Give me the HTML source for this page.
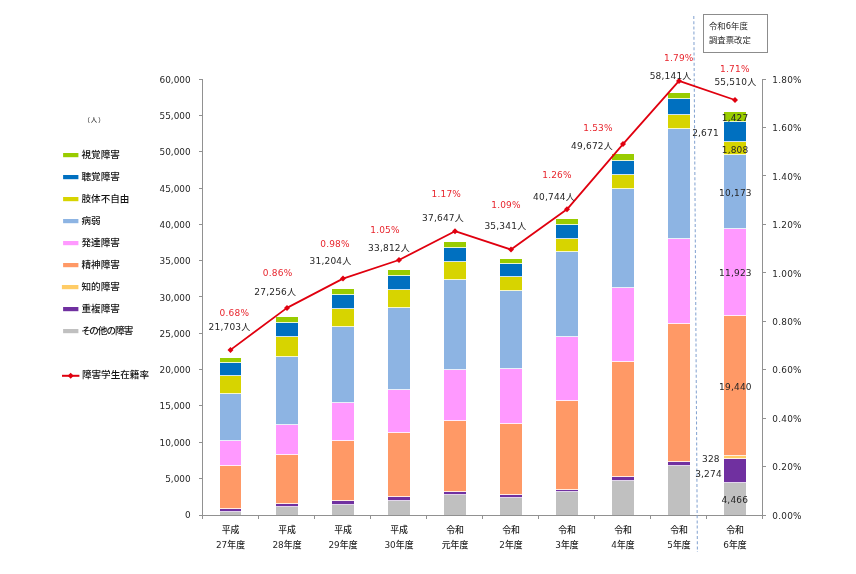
<!DOCTYPE html>
<html lang="ja"><head><meta charset="utf-8"><title>障害学生数・障害学生在籍率の推移</title>
<style>html,body{margin:0;padding:0;background:#fff}body{width:856px;height:574px;overflow:hidden}svg{display:block}
text{font-family:"DejaVu Sans","Liberation Sans","Noto Sans CJK JP",sans-serif;fill:#262626}
.n{font-size:9px;letter-spacing:0.2px}.ax{font-size:8.9px}.r{fill:#e8262e}.j{font-family:"Liberation Sans","Noto Sans CJK JP",sans-serif}
.lg{font-size:9.6px;fill:#111;font-weight:500}.xl{font-size:8.9px;font-weight:500}.m{text-anchor:middle}.e{text-anchor:end}
</style></head><body>
<svg width="856" height="574" viewBox="0 0 856 574">
<rect width="856" height="574" fill="#fff"/>
<rect x="220" y="512" width="21" height="3.4" fill="#c0c0c0"/>
<rect x="220" y="509" width="21" height="3.0" fill="#7030a0"/>
<rect x="220" y="466" width="21" height="43.0" fill="#ff9966"/>
<rect x="220" y="441" width="21" height="25.0" fill="#ff99ff"/>
<rect x="220" y="394" width="21" height="47.0" fill="#8db4e3"/>
<rect x="220" y="376" width="21" height="18.0" fill="#d7d400"/>
<rect x="220" y="363" width="21" height="13.0" fill="#0070c0"/>
<rect x="220" y="358" width="21" height="5.0" fill="#99cc00"/>
<rect x="220" y="511" width="21" height="1" fill="#fff" fill-opacity="0.8"/>
<rect x="220" y="508" width="21" height="1" fill="#fff" fill-opacity="0.8"/>
<rect x="220" y="465" width="21" height="1" fill="#fff" fill-opacity="0.8"/>
<rect x="220" y="440" width="21" height="1" fill="#fff" fill-opacity="0.8"/>
<rect x="220" y="393" width="21" height="1" fill="#fff" fill-opacity="0.8"/>
<rect x="220" y="375" width="21" height="1" fill="#fff" fill-opacity="0.8"/>
<rect x="220" y="362" width="21" height="1" fill="#fff" fill-opacity="0.8"/>
<rect x="276" y="507" width="22" height="8.4" fill="#c0c0c0"/>
<rect x="276" y="504" width="22" height="3.0" fill="#7030a0"/>
<rect x="276" y="455" width="22" height="49.0" fill="#ff9966"/>
<rect x="276" y="425" width="22" height="30.0" fill="#ff99ff"/>
<rect x="276" y="357" width="22" height="68.0" fill="#8db4e3"/>
<rect x="276" y="337" width="22" height="20.0" fill="#d7d400"/>
<rect x="276" y="323" width="22" height="14.0" fill="#0070c0"/>
<rect x="276" y="317" width="22" height="6.0" fill="#99cc00"/>
<rect x="276" y="506" width="22" height="1" fill="#fff" fill-opacity="0.8"/>
<rect x="276" y="503" width="22" height="1" fill="#fff" fill-opacity="0.8"/>
<rect x="276" y="454" width="22" height="1" fill="#fff" fill-opacity="0.8"/>
<rect x="276" y="424" width="22" height="1" fill="#fff" fill-opacity="0.8"/>
<rect x="276" y="356" width="22" height="1" fill="#fff" fill-opacity="0.8"/>
<rect x="276" y="336" width="22" height="1" fill="#fff" fill-opacity="0.8"/>
<rect x="276" y="322" width="22" height="1" fill="#fff" fill-opacity="0.8"/>
<rect x="332" y="505" width="22" height="10.4" fill="#c0c0c0"/>
<rect x="332" y="501" width="22" height="4.0" fill="#7030a0"/>
<rect x="332" y="441" width="22" height="60.0" fill="#ff9966"/>
<rect x="332" y="403" width="22" height="38.0" fill="#ff99ff"/>
<rect x="332" y="327" width="22" height="76.0" fill="#8db4e3"/>
<rect x="332" y="309" width="22" height="18.0" fill="#d7d400"/>
<rect x="332" y="295" width="22" height="14.0" fill="#0070c0"/>
<rect x="332" y="289" width="22" height="6.0" fill="#99cc00"/>
<rect x="332" y="504" width="22" height="1" fill="#fff" fill-opacity="0.8"/>
<rect x="332" y="500" width="22" height="1" fill="#fff" fill-opacity="0.8"/>
<rect x="332" y="440" width="22" height="1" fill="#fff" fill-opacity="0.8"/>
<rect x="332" y="402" width="22" height="1" fill="#fff" fill-opacity="0.8"/>
<rect x="332" y="326" width="22" height="1" fill="#fff" fill-opacity="0.8"/>
<rect x="332" y="308" width="22" height="1" fill="#fff" fill-opacity="0.8"/>
<rect x="332" y="294" width="22" height="1" fill="#fff" fill-opacity="0.8"/>
<rect x="388" y="501" width="22" height="14.4" fill="#c0c0c0"/>
<rect x="388" y="497" width="22" height="4.0" fill="#7030a0"/>
<rect x="388" y="433" width="22" height="64.0" fill="#ff9966"/>
<rect x="388" y="390" width="22" height="43.0" fill="#ff99ff"/>
<rect x="388" y="308" width="22" height="82.0" fill="#8db4e3"/>
<rect x="388" y="290" width="22" height="18.0" fill="#d7d400"/>
<rect x="388" y="276" width="22" height="14.0" fill="#0070c0"/>
<rect x="388" y="270" width="22" height="6.0" fill="#99cc00"/>
<rect x="388" y="500" width="22" height="1" fill="#fff" fill-opacity="0.8"/>
<rect x="388" y="496" width="22" height="1" fill="#fff" fill-opacity="0.8"/>
<rect x="388" y="432" width="22" height="1" fill="#fff" fill-opacity="0.8"/>
<rect x="388" y="389" width="22" height="1" fill="#fff" fill-opacity="0.8"/>
<rect x="388" y="307" width="22" height="1" fill="#fff" fill-opacity="0.8"/>
<rect x="388" y="289" width="22" height="1" fill="#fff" fill-opacity="0.8"/>
<rect x="388" y="275" width="22" height="1" fill="#fff" fill-opacity="0.8"/>
<rect x="444" y="495" width="22" height="20.4" fill="#c0c0c0"/>
<rect x="444" y="492" width="22" height="3.0" fill="#7030a0"/>
<rect x="444" y="421" width="22" height="71.0" fill="#ff9966"/>
<rect x="444" y="370" width="22" height="51.0" fill="#ff99ff"/>
<rect x="444" y="280" width="22" height="90.0" fill="#8db4e3"/>
<rect x="444" y="262" width="22" height="18.0" fill="#d7d400"/>
<rect x="444" y="248" width="22" height="14.0" fill="#0070c0"/>
<rect x="444" y="242" width="22" height="6.0" fill="#99cc00"/>
<rect x="444" y="494" width="22" height="1" fill="#fff" fill-opacity="0.8"/>
<rect x="444" y="491" width="22" height="1" fill="#fff" fill-opacity="0.8"/>
<rect x="444" y="420" width="22" height="1" fill="#fff" fill-opacity="0.8"/>
<rect x="444" y="369" width="22" height="1" fill="#fff" fill-opacity="0.8"/>
<rect x="444" y="279" width="22" height="1" fill="#fff" fill-opacity="0.8"/>
<rect x="444" y="261" width="22" height="1" fill="#fff" fill-opacity="0.8"/>
<rect x="444" y="247" width="22" height="1" fill="#fff" fill-opacity="0.8"/>
<rect x="500" y="498" width="22" height="17.4" fill="#c0c0c0"/>
<rect x="500" y="495" width="22" height="3.0" fill="#7030a0"/>
<rect x="500" y="424" width="22" height="71.0" fill="#ff9966"/>
<rect x="500" y="369" width="22" height="55.0" fill="#ff99ff"/>
<rect x="500" y="291" width="22" height="78.0" fill="#8db4e3"/>
<rect x="500" y="277" width="22" height="14.0" fill="#d7d400"/>
<rect x="500" y="264" width="22" height="13.0" fill="#0070c0"/>
<rect x="500" y="259" width="22" height="5.0" fill="#99cc00"/>
<rect x="500" y="497" width="22" height="1" fill="#fff" fill-opacity="0.8"/>
<rect x="500" y="494" width="22" height="1" fill="#fff" fill-opacity="0.8"/>
<rect x="500" y="423" width="22" height="1" fill="#fff" fill-opacity="0.8"/>
<rect x="500" y="368" width="22" height="1" fill="#fff" fill-opacity="0.8"/>
<rect x="500" y="290" width="22" height="1" fill="#fff" fill-opacity="0.8"/>
<rect x="500" y="276" width="22" height="1" fill="#fff" fill-opacity="0.8"/>
<rect x="500" y="263" width="22" height="1" fill="#fff" fill-opacity="0.8"/>
<rect x="556" y="492" width="22" height="23.4" fill="#c0c0c0"/>
<rect x="556" y="490" width="22" height="2.0" fill="#7030a0"/>
<rect x="556" y="401" width="22" height="89.0" fill="#ff9966"/>
<rect x="556" y="337" width="22" height="64.0" fill="#ff99ff"/>
<rect x="556" y="252" width="22" height="85.0" fill="#8db4e3"/>
<rect x="556" y="239" width="22" height="13.0" fill="#d7d400"/>
<rect x="556" y="225" width="22" height="14.0" fill="#0070c0"/>
<rect x="556" y="219" width="22" height="6.0" fill="#99cc00"/>
<rect x="556" y="491" width="22" height="1" fill="#fff" fill-opacity="0.8"/>
<rect x="556" y="489" width="22" height="1" fill="#fff" fill-opacity="0.8"/>
<rect x="556" y="400" width="22" height="1" fill="#fff" fill-opacity="0.8"/>
<rect x="556" y="336" width="22" height="1" fill="#fff" fill-opacity="0.8"/>
<rect x="556" y="251" width="22" height="1" fill="#fff" fill-opacity="0.8"/>
<rect x="556" y="238" width="22" height="1" fill="#fff" fill-opacity="0.8"/>
<rect x="556" y="224" width="22" height="1" fill="#fff" fill-opacity="0.8"/>
<rect x="612" y="481" width="22" height="34.4" fill="#c0c0c0"/>
<rect x="612" y="477" width="22" height="4.0" fill="#7030a0"/>
<rect x="612" y="362" width="22" height="115.0" fill="#ff9966"/>
<rect x="612" y="288" width="22" height="74.0" fill="#ff99ff"/>
<rect x="612" y="189" width="22" height="99.0" fill="#8db4e3"/>
<rect x="612" y="175" width="22" height="14.0" fill="#d7d400"/>
<rect x="612" y="161" width="22" height="14.0" fill="#0070c0"/>
<rect x="612" y="154" width="22" height="7.0" fill="#99cc00"/>
<rect x="612" y="480" width="22" height="1" fill="#fff" fill-opacity="0.8"/>
<rect x="612" y="476" width="22" height="1" fill="#fff" fill-opacity="0.8"/>
<rect x="612" y="361" width="22" height="1" fill="#fff" fill-opacity="0.8"/>
<rect x="612" y="287" width="22" height="1" fill="#fff" fill-opacity="0.8"/>
<rect x="612" y="188" width="22" height="1" fill="#fff" fill-opacity="0.8"/>
<rect x="612" y="174" width="22" height="1" fill="#fff" fill-opacity="0.8"/>
<rect x="612" y="160" width="22" height="1" fill="#fff" fill-opacity="0.8"/>
<rect x="668" y="466" width="22" height="49.4" fill="#c0c0c0"/>
<rect x="668" y="462" width="22" height="4.0" fill="#7030a0"/>
<rect x="668" y="324" width="22" height="138.0" fill="#ff9966"/>
<rect x="668" y="239" width="22" height="85.0" fill="#ff99ff"/>
<rect x="668" y="129" width="22" height="110.0" fill="#8db4e3"/>
<rect x="668" y="115" width="22" height="14.0" fill="#d7d400"/>
<rect x="668" y="99" width="22" height="16.0" fill="#0070c0"/>
<rect x="668" y="93" width="22" height="6.0" fill="#99cc00"/>
<rect x="668" y="465" width="22" height="1" fill="#fff" fill-opacity="0.8"/>
<rect x="668" y="461" width="22" height="1" fill="#fff" fill-opacity="0.8"/>
<rect x="668" y="323" width="22" height="1" fill="#fff" fill-opacity="0.8"/>
<rect x="668" y="238" width="22" height="1" fill="#fff" fill-opacity="0.8"/>
<rect x="668" y="128" width="22" height="1" fill="#fff" fill-opacity="0.8"/>
<rect x="668" y="114" width="22" height="1" fill="#fff" fill-opacity="0.8"/>
<rect x="668" y="98" width="22" height="1" fill="#fff" fill-opacity="0.8"/>
<rect x="724" y="483" width="22" height="32.4" fill="#c0c0c0"/>
<rect x="724" y="459" width="22" height="24.0" fill="#7030a0"/>
<rect x="724" y="456" width="22" height="3.0" fill="#ffcc66"/>
<rect x="724" y="316" width="22" height="140.0" fill="#ff9966"/>
<rect x="724" y="229" width="22" height="87.0" fill="#ff99ff"/>
<rect x="724" y="155" width="22" height="74.0" fill="#8db4e3"/>
<rect x="724" y="142" width="22" height="13.0" fill="#d7d400"/>
<rect x="724" y="122" width="22" height="20.0" fill="#0070c0"/>
<rect x="724" y="112" width="22" height="10.0" fill="#99cc00"/>
<rect x="724" y="482" width="22" height="1" fill="#fff" fill-opacity="0.8"/>
<rect x="724" y="458" width="22" height="1" fill="#fff" fill-opacity="0.8"/>
<rect x="724" y="455" width="22" height="1" fill="#fff" fill-opacity="0.8"/>
<rect x="724" y="315" width="22" height="1" fill="#fff" fill-opacity="0.8"/>
<rect x="724" y="228" width="22" height="1" fill="#fff" fill-opacity="0.8"/>
<rect x="724" y="154" width="22" height="1" fill="#fff" fill-opacity="0.8"/>
<rect x="724" y="141" width="22" height="1" fill="#fff" fill-opacity="0.8"/>
<rect x="724" y="121" width="22" height="1" fill="#fff" fill-opacity="0.8"/>
<g stroke="#919191" stroke-width="1" fill="none" shape-rendering="crispEdges">
<path d="M202.5 78.5V518.5"/>
<path d="M199 515.5H766"/>
<path d="M762.5 78.5V518.5"/>
<path d="M199 478.5H202.5"/>
<path d="M199 442.5H202.5"/>
<path d="M199 405.5H202.5"/>
<path d="M199 369.5H202.5"/>
<path d="M199 333.5H202.5"/>
<path d="M199 296.5H202.5"/>
<path d="M199 260.5H202.5"/>
<path d="M199 224.5H202.5"/>
<path d="M199 188.5H202.5"/>
<path d="M199 151.5H202.5"/>
<path d="M199 115.5H202.5"/>
<path d="M199 79.5H202.5"/>
<path d="M762.5 466.5H766"/>
<path d="M762.5 418.5H766"/>
<path d="M762.5 369.5H766"/>
<path d="M762.5 321.5H766"/>
<path d="M762.5 272.5H766"/>
<path d="M762.5 224.5H766"/>
<path d="M762.5 175.5H766"/>
<path d="M762.5 127.5H766"/>
<path d="M762.5 79.5H766"/>
<path d="M258.5 515.5V518.5"/>
<path d="M314.5 515.5V518.5"/>
<path d="M370.5 515.5V518.5"/>
<path d="M426.5 515.5V518.5"/>
<path d="M482.5 515.5V518.5"/>
<path d="M538.5 515.5V518.5"/>
<path d="M594.5 515.5V518.5"/>
<path d="M650.5 515.5V518.5"/>
<path d="M706.5 515.5V518.5"/>
</g>
<path d="M693.8 16L697.4 552" stroke="#86a5d2" stroke-width="1.05" stroke-dasharray="3 2.2" fill="none"/>
<text class="ax e" x="190.6" y="518.4">0</text>
<text class="ax e" x="190.6" y="482.1">5,000</text>
<text class="ax e" x="190.6" y="445.8">10,000</text>
<text class="ax e" x="190.6" y="409.4">15,000</text>
<text class="ax e" x="190.6" y="373.1">20,000</text>
<text class="ax e" x="190.6" y="336.8">25,000</text>
<text class="ax e" x="190.6" y="300.5">30,000</text>
<text class="ax e" x="190.6" y="264.2">35,000</text>
<text class="ax e" x="190.6" y="227.8">40,000</text>
<text class="ax e" x="190.6" y="191.5">45,000</text>
<text class="ax e" x="190.6" y="155.2">50,000</text>
<text class="ax e" x="190.6" y="118.9">55,000</text>
<text class="ax e" x="190.6" y="82.6">60,000</text>
<text class="ax" x="772.3" y="518.6" style="letter-spacing:0.25px">0.00%</text>
<text class="ax" x="772.3" y="470.2" style="letter-spacing:0.25px">0.20%</text>
<text class="ax" x="772.3" y="421.8" style="letter-spacing:0.25px">0.40%</text>
<text class="ax" x="772.3" y="373.4" style="letter-spacing:0.25px">0.60%</text>
<text class="ax" x="772.3" y="324.9" style="letter-spacing:0.25px">0.80%</text>
<text class="ax" x="772.3" y="276.5" style="letter-spacing:0.25px">1.00%</text>
<text class="ax" x="772.3" y="228.1" style="letter-spacing:0.25px">1.20%</text>
<text class="ax" x="772.3" y="179.7" style="letter-spacing:0.25px">1.40%</text>
<text class="ax" x="772.3" y="131.2" style="letter-spacing:0.25px">1.60%</text>
<text class="ax" x="772.3" y="82.8" style="letter-spacing:0.25px">1.80%</text>
<text class="xl m" x="230.5" y="532.9">平成</text>
<text class="xl m" x="230.5" y="548.0">27年度</text>
<text class="xl m" x="287.0" y="532.9">平成</text>
<text class="xl m" x="287.0" y="548.0">28年度</text>
<text class="xl m" x="343.0" y="532.9">平成</text>
<text class="xl m" x="343.0" y="548.0">29年度</text>
<text class="xl m" x="399.0" y="532.9">平成</text>
<text class="xl m" x="399.0" y="548.0">30年度</text>
<text class="xl m" x="455.0" y="532.9">令和</text>
<text class="xl m" x="455.0" y="548.0">元年度</text>
<text class="xl m" x="511.0" y="532.9">令和</text>
<text class="xl m" x="511.0" y="548.0">2年度</text>
<text class="xl m" x="567.0" y="532.9">令和</text>
<text class="xl m" x="567.0" y="548.0">3年度</text>
<text class="xl m" x="623.0" y="532.9">令和</text>
<text class="xl m" x="623.0" y="548.0">4年度</text>
<text class="xl m" x="679.0" y="532.9">令和</text>
<text class="xl m" x="679.0" y="548.0">5年度</text>
<text class="xl m" x="735.0" y="532.9">令和</text>
<text class="xl m" x="735.0" y="548.0">6年度</text>
<polyline points="230.5,349.9 287.0,307.9 343.0,278.6 399.0,260.0 455.0,231.2 511.0,249.6 567.0,209.3 623.0,144.1 679.0,80.9 735.0,100.0" fill="none" stroke="#e0000f" stroke-width="1.8" stroke-linejoin="round"/>
<path d="M230.5 346.9l3 3l-3 3l-3 -3z" fill="#e0000f"/>
<path d="M287.0 304.9l3 3l-3 3l-3 -3z" fill="#e0000f"/>
<path d="M343.0 275.6l3 3l-3 3l-3 -3z" fill="#e0000f"/>
<path d="M399.0 257.0l3 3l-3 3l-3 -3z" fill="#e0000f"/>
<path d="M455.0 228.2l3 3l-3 3l-3 -3z" fill="#e0000f"/>
<path d="M511.0 246.6l3 3l-3 3l-3 -3z" fill="#e0000f"/>
<path d="M567.0 206.3l3 3l-3 3l-3 -3z" fill="#e0000f"/>
<path d="M623.0 141.1l3 3l-3 3l-3 -3z" fill="#e0000f"/>
<path d="M679.0 77.9l3 3l-3 3l-3 -3z" fill="#e0000f"/>
<path d="M735.0 97.0l3 3l-3 3l-3 -3z" fill="#e0000f"/>
<text class="n r m" x="234.4" y="315.7">0.68%</text>
<text class="n m" x="229.5" y="330.1">21,703人</text>
<text class="n r m" x="277.6" y="275.8">0.86%</text>
<text class="n m" x="275.3" y="294.7">27,256人</text>
<text class="n r m" x="335.0" y="246.7">0.98%</text>
<text class="n m" x="330.5" y="263.6">31,204人</text>
<text class="n r m" x="385.0" y="232.9">1.05%</text>
<text class="n m" x="389.0" y="250.8">33,812人</text>
<text class="n r m" x="446.3" y="196.5">1.17%</text>
<text class="n m" x="443.0" y="220.9">37,647人</text>
<text class="n r m" x="506.0" y="207.8">1.09%</text>
<text class="n m" x="505.4" y="228.8">35,341人</text>
<text class="n r m" x="557.0" y="178.0">1.26%</text>
<text class="n m" x="554.0" y="199.9">40,744人</text>
<text class="n r m" x="598.0" y="130.9">1.53%</text>
<text class="n m" x="592.0" y="148.8">49,672人</text>
<text class="n r m" x="678.8" y="61.1">1.79%</text>
<text class="n m" x="670.6" y="79.0">58,141人</text>
<text class="n r m" x="734.9" y="71.6">1.71%</text>
<text class="n m" x="735.4" y="84.8">55,510人</text>
<text class="n m" x="735.1" y="120.7">1,427</text>
<text class="n e" x="718.9" y="135.5">2,671</text>
<text class="n m" x="735.1" y="152.6">1,808</text>
<text class="n m" x="735.4" y="195.6">10,173</text>
<text class="n m" x="735.4" y="275.9">11,923</text>
<text class="n m" x="735.4" y="389.7">19,440</text>
<text class="n e" x="719.8" y="461.8">328</text>
<text class="n e" x="721.9" y="476.7">3,274</text>
<text class="n m" x="734.8" y="503.0">4,466</text>
<rect x="703.5" y="14.5" width="64" height="38" fill="#fff" stroke="#8c8c8c" stroke-width="1" shape-rendering="crispEdges"/>
<text x="709" y="28.6" style="font-size:8.4px">令和6年度</text>
<text x="709" y="43.3" style="font-size:8.4px">調査票改定</text>
<text x="83.4" y="122.2" style="font-size:6.4px;letter-spacing:1px">（人）</text>
<rect x="63.1" y="153.0" width="15.3" height="4.2" fill="#99cc00"/>
<text class="lg" x="81.5" y="157.7">視覚障害</text>
<rect x="63.1" y="175.0" width="15.3" height="4.2" fill="#0070c0"/>
<text class="lg" x="81.5" y="179.7">聴覚障害</text>
<rect x="63.1" y="197.0" width="15.3" height="4.2" fill="#d7d400"/>
<text class="lg" x="81.5" y="201.7">肢体不自由</text>
<rect x="63.1" y="219.0" width="15.3" height="4.2" fill="#8db4e3"/>
<text class="lg" x="81.5" y="223.7">病弱</text>
<rect x="63.1" y="241.0" width="15.3" height="4.2" fill="#ff99ff"/>
<text class="lg" x="81.5" y="245.7">発達障害</text>
<rect x="63.1" y="263.0" width="15.3" height="4.2" fill="#ff9966"/>
<text class="lg" x="81.5" y="267.7">精神障害</text>
<rect x="61.9" y="285.0" width="16.5" height="4.2" fill="#ffcc66"/>
<text class="lg" x="81.5" y="289.7">知的障害</text>
<rect x="63.1" y="307.0" width="15.3" height="4.2" fill="#7030a0"/>
<text class="lg" x="81.5" y="311.7">重複障害</text>
<rect x="63.1" y="329.0" width="15.3" height="4.2" fill="#c0c0c0"/>
<text class="lg" x="81.5" y="333.7" style="font-feature-settings:&quot;palt&quot;;letter-spacing:-0.8px">その他の障害</text>
<path d="M62 375.8H79.4" stroke="#e0000f" stroke-width="2"/>
<path d="M70.7 372.8l3 3l-3 3l-3 -3z" fill="#e0000f"/>
<text class="lg" x="81.9" y="377.8">障害学生在籍率</text>
</svg></body></html>
